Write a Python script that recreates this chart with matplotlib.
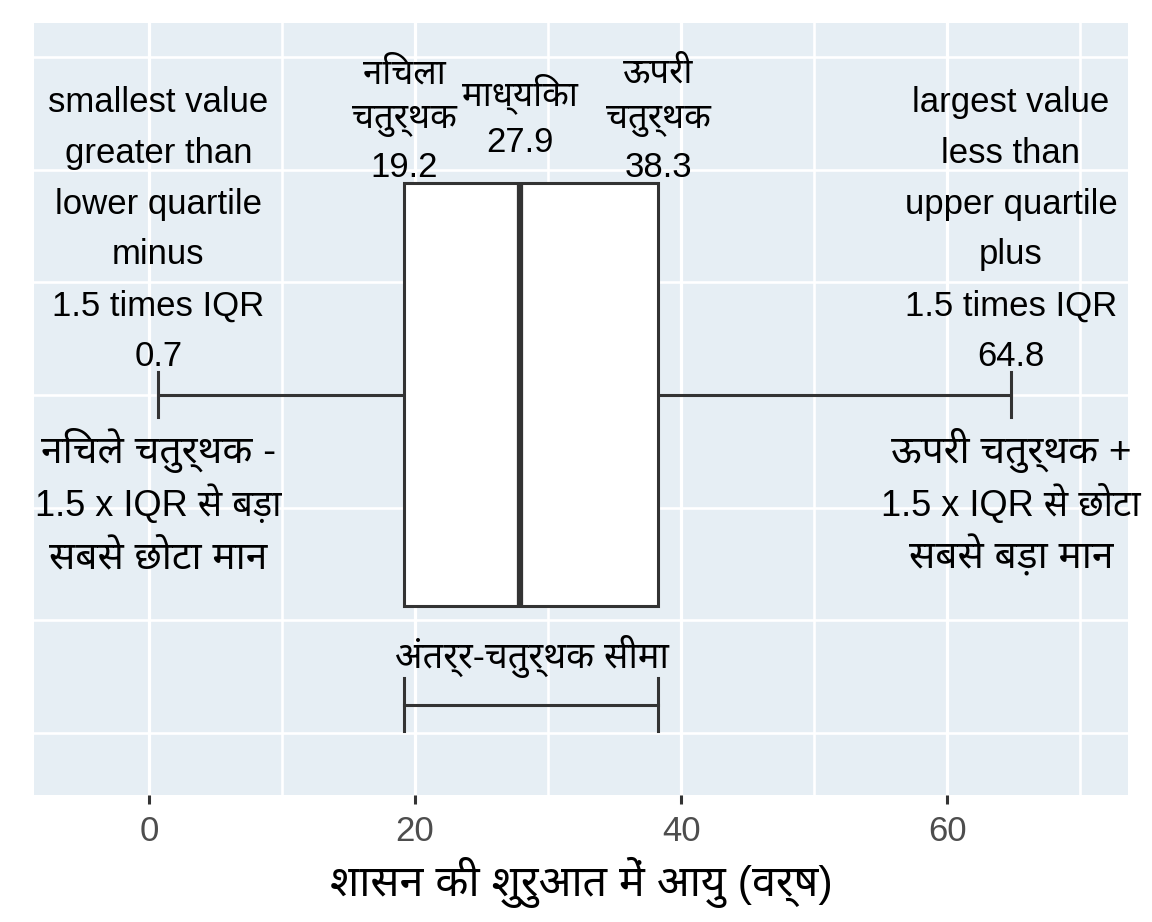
import matplotlib
matplotlib.use("Agg")
import matplotlib.pyplot as plt
from matplotlib import font_manager

# box summary values (years)
stat_names = ["lower_whisker", "q1", "median", "q3", "upper_whisker"]
stat_values = [0.7, 19.2, 27.9, 38.3, 64.8]
x_ticks = [0, 20, 40, 60]
x_minor = [10, 30, 50, 70]
y_grid = [1, 2, 3, 4, 5, 6, 7]

left_top_text = "smallest value\ngreater than\nlower quartile\nminus\n1.5 times IQR\n0.7"
right_top_text = "largest value\nless than\nupper quartile\nplus\n1.5 times IQR\n64.8"
q1_words = "निचला\nचतुर्थक"
median_words = "माध्यिका"
q3_words = "ऊपरी\nचतुर्थक"
left_bottom_text = "निचले चतुर्थक -\n1.5 x IQR से बड़ा\nसबसे छोटा मान"
right_bottom_text = "ऊपरी चतुर्थक +\n1.5 x IQR से छोटा\nसबसे बड़ा मान"
iqr_text = "अंतर्र-चतुर्थक सीमा"
x_title = "शासन की शुरुआत में आयु (वर्ष)"

# pick a Devanagari face that is installed
installed = {f.name for f in font_manager.fontManager.ttflist}
deva = None
for name in ["Noto Sans Devanagari", "Mukta", "Hind", "Anek Devanagari", "FreeSans"]:
    if name in installed:
        deva = name
        break
families = ["Liberation Sans"]
if deva:
    families.append(deva)
families.append("DejaVu Sans")
plt.rcParams["font.family"] = families

lw, q1, med, q3, uw = stat_values
line_col = "#333333"
bg = "#e6eef4"

fig = plt.figure(figsize=(11.52, 9.22), dpi=100)
ax = fig.add_axes([34 / 1152, 1 - 795 / 922, (1128 - 34) / 1152, (795 - 23) / 922])
ax.set_facecolor(bg)
ax.set_xlim(-8.65, 73.6)
ax.set_ylim(0.45, 7.30)


def py(px):
    # pixel row of the reference -> data y
    return 1 + (733 - px) / 112.7


def stacked(x, first_base, text, sizes, step_px, **kw):
    # lines one under the other, first_base = pixel row of first baseline
    lines = text.split("\n")
    if not isinstance(sizes, list):
        sizes = [sizes] * len(lines)
    for i, line in enumerate(lines):
        ax.text(x, py(first_base + i * step_px), line, ha="center", va="baseline",
                fontsize=sizes[i], **kw)


for x in x_ticks:
    ax.axvline(x, color="white", lw=2.3, zorder=0)
for x in x_minor:
    ax.axvline(x, color="white", lw=1.9, zorder=0)
for y in y_grid:
    ax.axhline(y, color="white", lw=1.9, zorder=0)

# box
yc = 4.0
hh = 1.877
ax.add_patch(plt.Rectangle((q1, yc - hh), q3 - q1, 2 * hh, facecolor="white",
                           edgecolor=line_col, lw=2.2, zorder=3))
ax.plot([med, med], [yc - hh, yc + hh], color=line_col, lw=4.5, zorder=4,
        solid_capstyle="butt")
# whiskers
ax.plot([lw, q1], [yc, yc], color=line_col, lw=2.2, zorder=2)
ax.plot([q3, uw], [yc, yc], color=line_col, lw=2.2, zorder=2)
for x in [lw, uw]:
    ax.plot([x, x], [yc - 0.2, yc + 0.2], color=line_col, lw=2.2, zorder=2)
# IQR bracket
yb = 1.25
ax.plot([q1, q3], [yb, yb], color=line_col, lw=2.2)
for x in [q1, q3]:
    ax.plot([x, x], [yb - 0.235, yb + 0.235], color=line_col, lw=2.2)

# whisker notes above
stacked(lw, 112, left_top_text, 25, 50.8)
stacked(uw, 112, right_top_text, 25, 50.8)

# quartile / median labels
stacked(q1, 83, q1_words, 25, 45)
ax.text(q1, py(177), f"{q1}", ha="center", va="baseline", fontsize=25)
stacked(med, 105, median_words, 25, 45)
ax.text(med, py(152), f"{med}", ha="center", va="baseline", fontsize=25)
stacked(q3, 83, q3_words, 25, 45)
ax.text(q3, py(177), f"{q3}", ha="center", va="baseline", fontsize=25)

# whisker notes below
stacked(lw, 463, left_bottom_text, [28, 26, 28], 52.5)
stacked(uw, 463, right_bottom_text, [28, 26, 28], 52.5, clip_on=False)
ax.text((q1 + q3) / 2, py(668), iqr_text, ha="center", va="baseline", fontsize=26)

ax.set_xticks(x_ticks)
ax.set_xticklabels([str(t) for t in x_ticks])
ax.set_yticks([])
ax.tick_params(axis="x", length=6.5, width=2.2, color=line_col, labelcolor="#4d4d4d",
               labelsize=25, pad=8)
for s in ax.spines.values():
    s.set_visible(False)
ax.set_xlabel(x_title, fontsize=31, labelpad=6)

fig.savefig("out.png", dpi=100)
